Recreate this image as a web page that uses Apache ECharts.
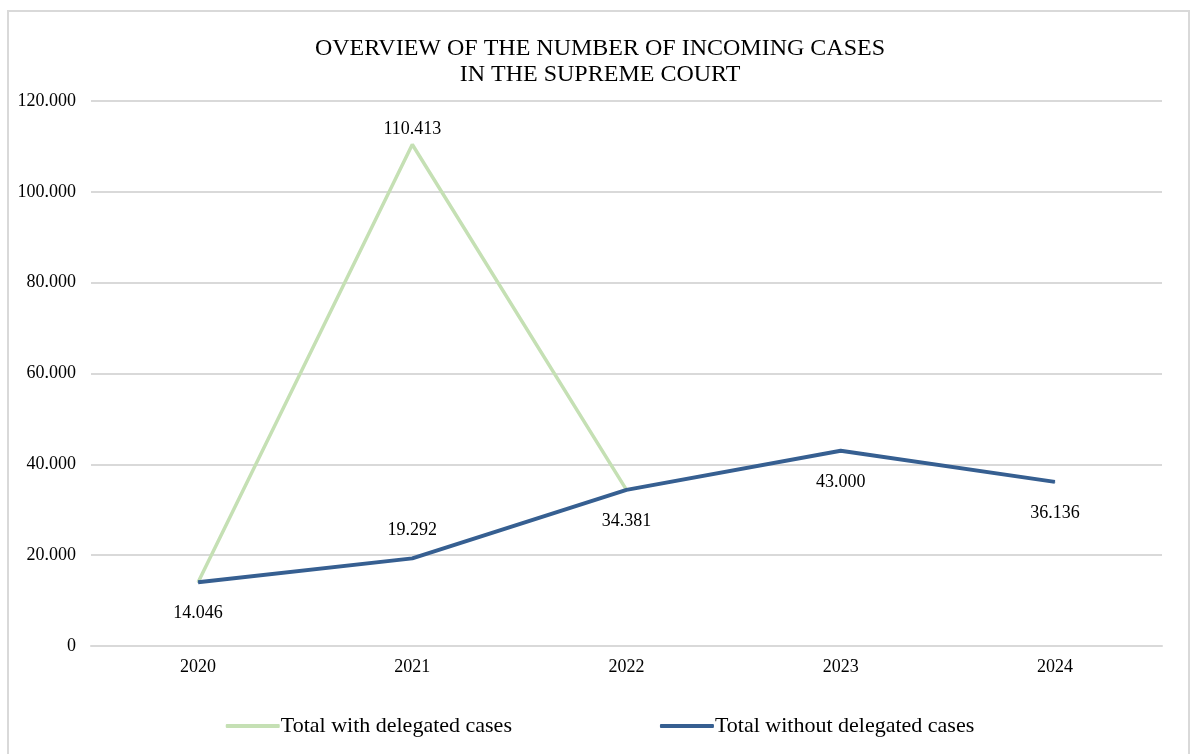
<!DOCTYPE html>
<html>
<head>
    <meta charset="UTF-8">
    <title>Incoming cases - Supreme Court</title>
    <script src="https://cdn.jsdelivr.net/npm/echarts@6/dist/echarts.min.js"></script>
    <style>
        body { margin: 0; background: #fff; }
        #main { width: 1200px; height: 754px; }
    </style>
</head>
<body>
    <div id="main"></div>
    <script type="text/javascript">
        // years on the x axis
        var years = ['2020', '2021', '2022', '2023', '2024'];
        // totals incl. delegated cases (only reported up to 2022)
        var withDelegated = [14046, 110413, 34381, null, null];
        // totals excl. delegated cases
        var withoutDelegated = [14046, 19292, 34381, 43000, 36136];
        // where the blue labels sit relative to the point
        var blueLabelPos = ['bottom', 'top', 'bottom', 'bottom', 'bottom'];

        // 110413 -> "110.413"
        function fmt(v) {
            if (v === 0) return '0';
            return String(Math.round(v)).replace(/\B(?=(\d{3})+(?!\d))/g, '.');
        }

        var serif = 'Liberation Serif, Times New Roman, serif';
        var myChart = echarts.init(document.getElementById('main'));

        var option = {
            textStyle: { fontFamily: serif },
            title: {
                text: 'OVERVIEW OF THE NUMBER OF INCOMING CASES\nIN THE SUPREME COURT',
                left: 'center',
                top: 31,
                textStyle: { fontFamily: serif, fontWeight: 'normal', fontSize: 24, color: '#000', lineHeight: 26 }
            },
            graphic: [{
                type: 'rect',
                shape: { x: 8, y: 11, width: 1181, height: 760 },
                style: { fill: 'none', stroke: '#d9d9d9', lineWidth: 2 }
            }],
            legend: {
                bottom: 12,
                left: 'center',
                itemGap: 148,
                itemWidth: 54,
                itemHeight: 4,
                icon: 'roundRect',
                textStyle: { fontFamily: serif, fontSize: 22, color: '#000', padding: [0, 0, 0, -4] },
                data: ['Total with delegated cases', 'Total without delegated cases']
            },
            grid: { left: 91, right: 38, top: 101, bottom: 108 },
            xAxis: {
                type: 'category',
                data: years,
                boundaryGap: true,
                axisLine: { lineStyle: { color: '#d9d9d9', width: 2 } },
                axisTick: { show: false },
                axisLabel: { color: '#000', fontFamily: serif, fontSize: 18, margin: 12 }
            },
            yAxis: {
                type: 'value',
                min: 0,
                max: 120000,
                interval: 20000,
                axisLine: { show: false },
                axisTick: { show: false },
                splitLine: { lineStyle: { color: '#d9d9d9', width: 2 } },
                axisLabel: { color: '#000', fontFamily: serif, fontSize: 18, margin: 15, formatter: fmt }
            },
            series: [
                {
                    name: 'Total with delegated cases',
                    type: 'line',
                    data: withDelegated.map(function (v, i) {
                        return { value: v, label: { show: i === 1 } };
                    }),
                    symbol: 'circle',
                    symbolSize: 1,
                    showSymbol: true,
                    color: '#c5e0b4',
                    itemStyle: { color: '#c5e0b4' },
                    lineStyle: { width: 3.5, color: '#c5e0b4' },
                    label: {
                        position: 'top', distance: 6,
                        color: '#000', fontFamily: serif, fontSize: 18,
                        formatter: function (p) { return fmt(p.value); }
                    },
                    z: 2
                },
                {
                    name: 'Total without delegated cases',
                    type: 'line',
                    data: withoutDelegated.map(function (v, i) {
                        var pos = blueLabelPos[i];
                        return { value: v, label: { position: pos, distance: pos === 'top' ? 19 : 22 } };
                    }),
                    symbol: 'circle',
                    symbolSize: 1,
                    showSymbol: true,
                    color: '#365f91',
                    itemStyle: { color: '#365f91' },
                    lineStyle: { width: 4, color: '#365f91' },
                    label: {
                        show: true,
                        color: '#000', fontFamily: serif, fontSize: 18,
                        formatter: function (p) { return fmt(p.value); }
                    },
                    z: 3
                }
            ]
        };

        myChart.setOption(option);
    </script>
</body>
</html>
